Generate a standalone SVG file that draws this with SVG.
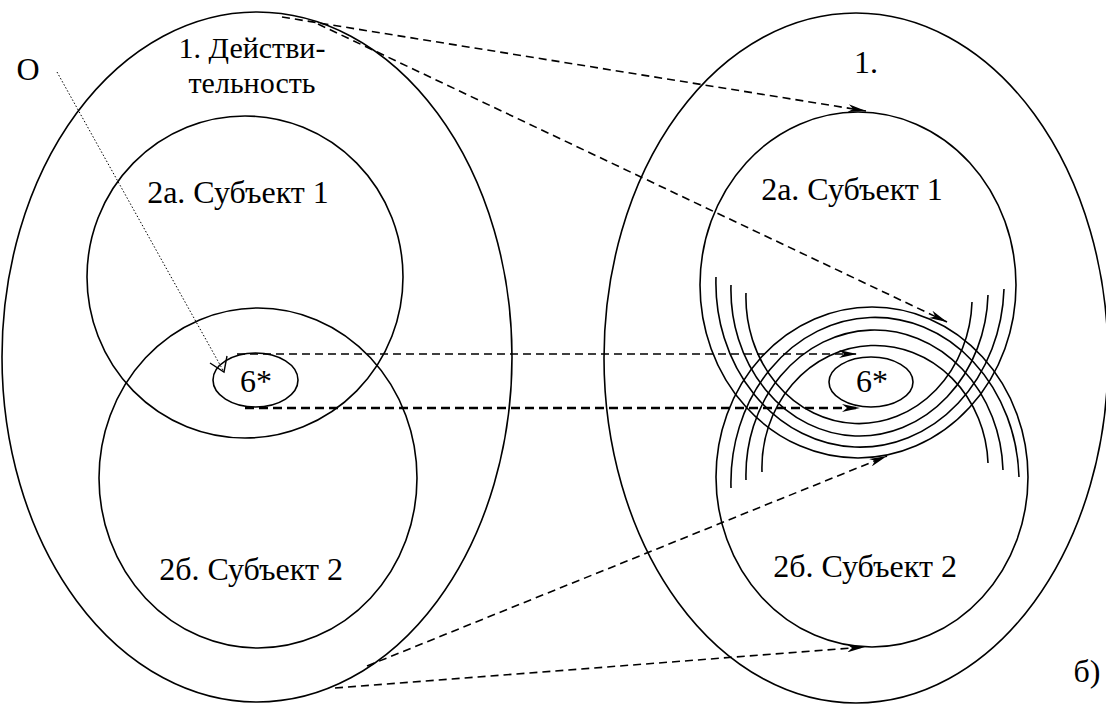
<svg xmlns="http://www.w3.org/2000/svg" width="1106" height="704" viewBox="0 0 1106 704">
<style>
.sh{fill:none;stroke:#000;stroke-width:1.6}
text{font-family:'Liberation Serif','Times New Roman',serif;font-size:32px;fill:#000;text-anchor:middle}
.d{fill:none;stroke:#000;stroke-width:1.6;stroke-dasharray:8 5}
.db{fill:none;stroke:#000;stroke-width:2.6;stroke-dasharray:9 5}
</style>
<defs>
<marker id="ah" viewBox="0 0 18 8" refX="18" refY="4" markerWidth="18" markerHeight="8" markerUnits="userSpaceOnUse" orient="auto">
<path d="M0,0 L18,4 L0,8 L5,4 Z" fill="#000" stroke="none"/>
</marker>
</defs>
<rect width="1106" height="704" fill="#fff"/>
<g id="left-reality">
<ellipse class="sh" cx="257" cy="357" rx="255" ry="345"/>
<text x="252" y="58" style="font-size:30px">1. Действи-</text>
<text x="252" y="93" style="font-size:30px">тельность</text>
</g>
<g id="left-subject1">
<ellipse class="sh" cx="245" cy="277" rx="158" ry="161"/>
<text x="238" y="203">2а. Субъект 1</text>
</g>
<g id="left-subject2">
<ellipse class="sh" cx="258" cy="478" rx="159" ry="170"/>
<text x="251" y="580">2б. Субъект 2</text>
</g>
<g id="left-6">
<ellipse class="sh" cx="255.5" cy="380" rx="42.5" ry="27"/>
<text x="256" y="392">6*</text>
</g>
<g id="O">
<text x="28" y="80">O</text>
</g>
<g id="right-reality">
<ellipse class="sh" cx="856" cy="358" rx="252" ry="345"/>
<text x="866" y="73">1.</text>
</g>
<g id="right-subject1">
<ellipse class="sh" cx="858" cy="285" rx="158" ry="173"/>
<path class="sh" d="M716,277 A144,164 0 0 0 1004,289"/>
<path class="sh" d="M731,285 A128.5,146 0 0 0 988,295"/>
<path class="sh" d="M746,293 A113,126 0 0 0 972,302"/>
<text x="852" y="200">2а. Субъект 1</text>
</g>
<g id="right-subject2">
<ellipse class="sh" cx="872" cy="477" rx="156" ry="170"/>
<path class="sh" d="M731,488 A144,165 0 0 1 1019,477"/>
<path class="sh" d="M746,480 A128.5,145 0 0 1 1003,470"/>
<path class="sh" d="M762,472 A113,122 0 0 1 988,463"/>
<text x="865" y="577">2б. Субъект 2</text>
</g>
<g id="right-6">
<ellipse class="sh" cx="871" cy="382" rx="42" ry="25"/>
<text x="872" y="392">6*</text>
</g>
<g id="label-b">
<text x="1087" y="682">б)</text>
</g>
<g id="connectors">
<path class="d" d="M282,17 L866,111" marker-end="url(#ah)"/>
<path class="d" d="M318,24 L947,322" marker-end="url(#ah)"/>
<path class="d" d="M237,354 L857,354" marker-end="url(#ah)"/>
<path class="db" d="M245,408 L860,408" marker-end="url(#ah)"/>
<path class="d" d="M367,666 L887,456" marker-end="url(#ah)"/>
<path class="d" d="M335,688 L865,647" marker-end="url(#ah)"/>
<path d="M57,72 L224,372" fill="none" stroke="#000" stroke-width="1" stroke-dasharray="1.5 2"/>
<path d="M210,363 L224,372 L227,356" fill="none" stroke="#000" stroke-width="1.4"/>
</g>
</svg>
